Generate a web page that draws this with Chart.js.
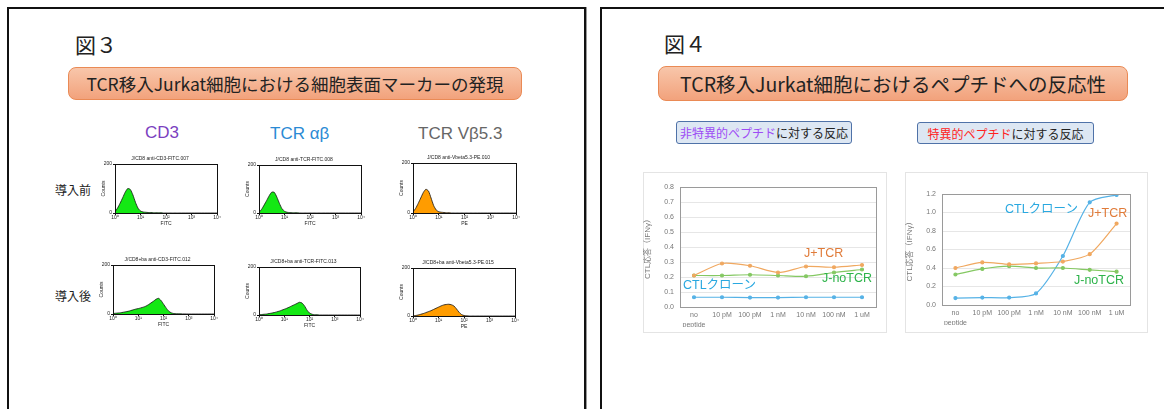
<!DOCTYPE html>
<html>
<head>
<meta charset="utf-8">
<script src="https://cdn.jsdelivr.net/npm/chart.js@4.4.0/dist/chart.umd.min.js"></script>
<style>
html, body { margin: 0; padding: 0; width: 1164px; height: 409px; overflow: hidden; background: #fff;
  font-family: "Noto Sans CJK JP", sans-serif; color: #222; }
.abs { position: absolute; white-space: nowrap; }
.panel { position: absolute; top: 7px; height: 460px; border: 2px solid #111; box-sizing: border-box; box-shadow: 1px 0 0 #999; }
.fig { font-size: 21px; line-height: 22px; }
.banner { text-align: center; border: 1px solid #ea8a55; border-radius: 8px; box-sizing: border-box;
  background: linear-gradient(#f8c6aa, #f2a27c); }
.col { font-family: "Liberation Sans", sans-serif; font-size: 17px; line-height: 20px; }
.row { font-size: 12px; line-height: 14px; }
.tag { font-size: 12px; line-height: 21px; background: #dde7f3; border: 1px solid #4f72a8; border-radius: 3px;
  box-sizing: border-box; text-align: center; }
.card { border: 1px solid #e4e4e4; box-sizing: border-box; }
.lbl { font-family: "Liberation Sans", "Noto Sans CJK JP", sans-serif; font-size: 12.5px; line-height: 14px; }
canvas { position: absolute; }
</style>
</head>
<body>
<div class="panel" style="left:7px;width:579px"></div>
<div class="panel" style="left:600px;width:620px"></div>

<div class="abs fig" style="left:75px;top:33px">図３</div>
<div class="abs banner" style="left:68px;top:67px;width:454px;height:33px;font-size:17.5px;line-height:31px">TCR移入Jurkat細胞における細胞表面マーカーの発現</div>
<div class="abs col" style="left:145px;top:123px;color:#7b3fbf">CD3</div>
<div class="abs col" style="left:270px;top:124px;color:#2a8ad4">TCR αβ</div>
<div class="abs col" style="left:418px;top:124px;color:#666">TCR Vβ5.3</div>
<div class="abs row" style="left:55px;top:183px">導入前</div>
<div class="abs row" style="left:55px;top:289px">導入後</div>

<div class="abs fig" style="left:664px;top:32px">図４</div>
<div class="abs banner" style="left:658px;top:66px;width:470px;height:35px;font-size:19.5px;line-height:33px">TCR移入Jurkat細胞におけるペプチドへの反応性</div>
<div class="abs tag" style="left:676px;top:121px;width:176px;height:23px"><span style="color:#9d4df5">非特異的ペプチド</span>に対する反応</div>
<div class="abs tag" style="left:917px;top:122px;width:177px;height:22px"><span style="color:#f22">特異的ペプチド</span>に対する反応</div>
<div class="abs card" style="left:643px;top:172px;width:244px;height:161px"></div>
<div class="abs card" style="left:905px;top:172px;width:243px;height:161px"></div>

<canvas id="h1"></canvas><canvas id="h2"></canvas><canvas id="h3"></canvas>
<canvas id="h4"></canvas><canvas id="h5"></canvas><canvas id="h6"></canvas>
<canvas id="c1"></canvas><canvas id="c2"></canvas>

<div class="abs lbl" style="left:804px;top:246px;color:#e07b39">J+TCR</div>
<div class="abs lbl" style="left:822px;top:271px;color:#2db34a">J-noTCR</div>
<div class="abs lbl" style="left:683px;top:278px;color:#29a8e0">CTLクローン</div>
<div class="abs lbl" style="left:1005px;top:202px;color:#29a8e0">CTLクローン</div>
<div class="abs lbl" style="left:1088px;top:206px;color:#e07b39">J+TCR</div>
<div class="abs lbl" style="left:1074px;top:273px;color:#2db34a">J-noTCR</div>

<script>
// flow histograms: bins in decades (10^0 .. 10^4), counts out of 200
const decades = [0, 0.1, 0.2, 0.3, 0.4, 0.5, 0.6, 0.7, 0.8, 0.9, 1.0, 1.1, 1.2, 1.3, 1.4, 1.5, 1.6, 1.7, 1.8, 1.9, 2.0, 2.1, 2.2, 2.3, 2.4, 2.5, 3, 3.5, 4];
const decadeLabels = ["10⁰", "10¹", "10²", "10³", "10⁴"];
const cd3Before = [5, 20, 40, 62, 85, 100, 96, 74, 44, 20, 8, 4, 3, 2, 2, 1, 1, 1, 1, 0, 0, 0, 0, 0, 0, 0, 0, 0, 0];
const tcrBefore = [3, 15, 33, 52, 72, 87, 86, 66, 40, 18, 7, 3, 2, 1, 1, 1, 0, 0, 0, 0, 0, 0, 0, 0, 0, 0, 0, 0, 0];
const vbBefore = [4, 18, 38, 60, 82, 95, 88, 60, 30, 12, 5, 3, 2, 1, 1, 0, 0, 0, 0, 0, 0, 0, 0, 0, 0, 0, 0, 0, 0];
const cd3After = [2, 3, 4, 5, 7, 9, 11, 14, 17, 20, 22, 25, 28, 32, 38, 45, 52, 60, 64, 55, 40, 25, 12, 5, 2, 1, 0, 0, 0];
const tcrAfter = [1, 2, 3, 4, 6, 8, 10, 13, 16, 20, 24, 28, 33, 38, 43, 48, 53, 50, 38, 20, 8, 3, 1, 1, 0, 0, 0, 0, 0];
const vbAfter = [1, 2, 4, 7, 10, 14, 18, 22, 27, 32, 37, 42, 46, 48, 49, 47, 42, 30, 16, 6, 2, 1, 0, 0, 0, 0, 0, 0, 0];

// peptide response (IFNγ)
const doses = [["no", "peptide"], "10 pM", "100 pM", "1 nM", "10 nM", "100 nM", "1 uM"];
const nonSpecJTCR = [0.21, 0.29, 0.275, 0.23, 0.27, 0.265, 0.28];
const nonSpecJnoTCR = [0.21, 0.21, 0.215, 0.21, 0.205, 0.23, 0.25];
const nonSpecCTL = [0.065, 0.065, 0.063, 0.063, 0.065, 0.065, 0.065];
const specJTCR = [0.40, 0.46, 0.44, 0.45, 0.47, 0.55, 0.88];
const specJnoTCR = [0.33, 0.39, 0.42, 0.40, 0.40, 0.38, 0.36];
const specCTL = [0.075, 0.08, 0.08, 0.125, 0.53, 1.11, 1.19];

Chart.defaults.animation = false;
Chart.defaults.devicePixelRatio = 1;
Chart.defaults.font.family = "'Liberation Sans', 'Noto Sans CJK JP', sans-serif";

const frame = {
  id: 'frame',
  afterDraw(chart, args, opts) {
    const a = chart.chartArea, ctx = chart.ctx;
    ctx.save();
    ctx.strokeStyle = opts.color || '#000';
    ctx.lineWidth = 1;
    ctx.strokeRect(Math.round(a.left) + 0.5, Math.round(a.top) + 0.5, Math.round(a.right - a.left), Math.round(a.bottom - a.top));
    ctx.restore();
  }
};

function place(id, left, top, w, h) {
  const c = document.getElementById(id);
  c.style.left = left + 'px';
  c.style.top = top + 'px';
  c.width = w;
  c.height = h;
  return c;
}

function histogram(id, box, title, axisName, counts, fill) {
  const [x0, y0, x1, y1] = box;
  const c = place(id, x0 - 14, y0 - 8, x1 - x0 + 16, y1 - y0 + 22);
  new Chart(c, {
    type: 'line',
    data: {
      datasets: [{
        data: decades.map((d, i) => ({ x: d, y: counts[i] })),
        fill: 'origin',
        backgroundColor: fill,
        borderColor: '#111',
        borderWidth: 0.8,
        pointRadius: 0,
        tension: 0.2
      }]
    },
    options: {
      responsive: false,
      layout: { padding: { left: 0, right: 2, top: 0, bottom: 0 } },
      scales: {
        x: {
          type: 'linear', min: 0, max: 4,
          afterFit(s) { s.height = 14; },
          grid: { drawOnChartArea: false, tickLength: 2, color: '#111' },
          border: { color: '#111' },
          ticks: { stepSize: 1, padding: 0, maxRotation: 0, font: { size: 5 }, color: '#222',
            callback: (v) => decadeLabels[v] },
          title: { display: true, text: axisName, font: { size: 5 }, color: '#222', padding: 0 }
        },
        y: {
          min: 0, max: 200,
          afterFit(s) { s.width = 14; },
          grid: { drawOnChartArea: false, tickLength: 2, color: '#111' },
          border: { color: '#111' },
          ticks: { stepSize: 200, padding: 1, font: { size: 5 }, color: '#222' },
          title: { display: true, text: 'Counts', font: { size: 5 }, color: '#222', padding: 0 }
        }
      },
      plugins: {
        legend: { display: false },
        tooltip: { enabled: false },
        title: { display: true, text: title, font: { size: 5, weight: 'normal' }, color: '#222', padding: { top: 0, bottom: 2 } },
        frame: { color: '#111' }
      }
    },
    plugins: [frame]
  });
}

histogram('h1', [115, 164, 219, 213], 'J/CD8 anti-CD3-FITC.007', 'FITC', cd3Before, '#14e814');
histogram('h2', [259, 165, 363, 213], 'J/CD8 anti-TCR-FITC.008', 'FITC', tcrBefore, '#14e814');
histogram('h3', [413, 163, 518, 213], 'J/CD8 anti-Vbeta5.3-PE.010', 'PE', vbBefore, '#ff9c00');
histogram('h4', [113, 265, 216, 314], 'J/CD8+ba anti-CD3-FITC.012', 'FITC', cd3After, '#14e814');
histogram('h5', [259, 267, 362, 315], 'J/CD8+ba anti-TCR-FITC.013', 'FITC', tcrAfter, '#14e814');
histogram('h6', [413, 268, 517, 316], 'J/CD8+ba anti-Vbeta5.3-PE.015', 'PE', vbAfter, '#ff9c00');

function series(values, color) {
  return { data: values, borderColor: color, backgroundColor: color, borderWidth: 1.2, pointRadius: 1.5, tension: 0.25, fill: false };
}

function response(id, left, pad, yMax, jtcr, jno, ctl) {
  const c = place(id, left, 172, 243, 161);
  new Chart(c, {
    type: 'line',
    data: {
      labels: doses,
      datasets: [series(jtcr, '#f0a860'), series(jno, '#84c862'), series(ctl, '#56b2e6')]
    },
    options: {
      responsive: false,
      layout: { padding: pad },
      scales: {
        x: {
          offset: true,
          afterFit(s) { s.height = 20; },
          grid: { display: false, drawTicks: false },
          border: { color: '#9a9a9a' },
          ticks: { font: { size: 7, lineHeight: 1.3 }, color: '#777', padding: 4, maxRotation: 0, autoSkip: false }
        },
        y: {
          min: 0, max: yMax,
          afterFit(s) { s.width = 37; },
          grid: { color: '#e6e6e6', drawTicks: false },
          border: { display: false },
          ticks: { stepSize: yMax > 1 ? 0.2 : 0.1, padding: 6, font: { size: 7 }, color: '#777',
            callback: (v) => v.toFixed(1) },
          title: { display: true, text: 'CTL応答（IFNγ）', font: { size: 8 }, color: '#777', padding: 0 }
        }
      },
      plugins: {
        legend: { display: false },
        tooltip: { enabled: false },
        frame: { color: '#9a9a9a' }
      }
    },
    plugins: [frame]
  });
}

response('c1', 643, { left: 0, top: 15, right: 10, bottom: 6 }, 0.8, nonSpecJTCR, nonSpecJnoTCR, nonSpecCTL);
response('c2', 905, { left: 0, top: 22, right: 18, bottom: 8 }, 1.2, specJTCR, specJnoTCR, specCTL);
</script>
</body>
</html>
